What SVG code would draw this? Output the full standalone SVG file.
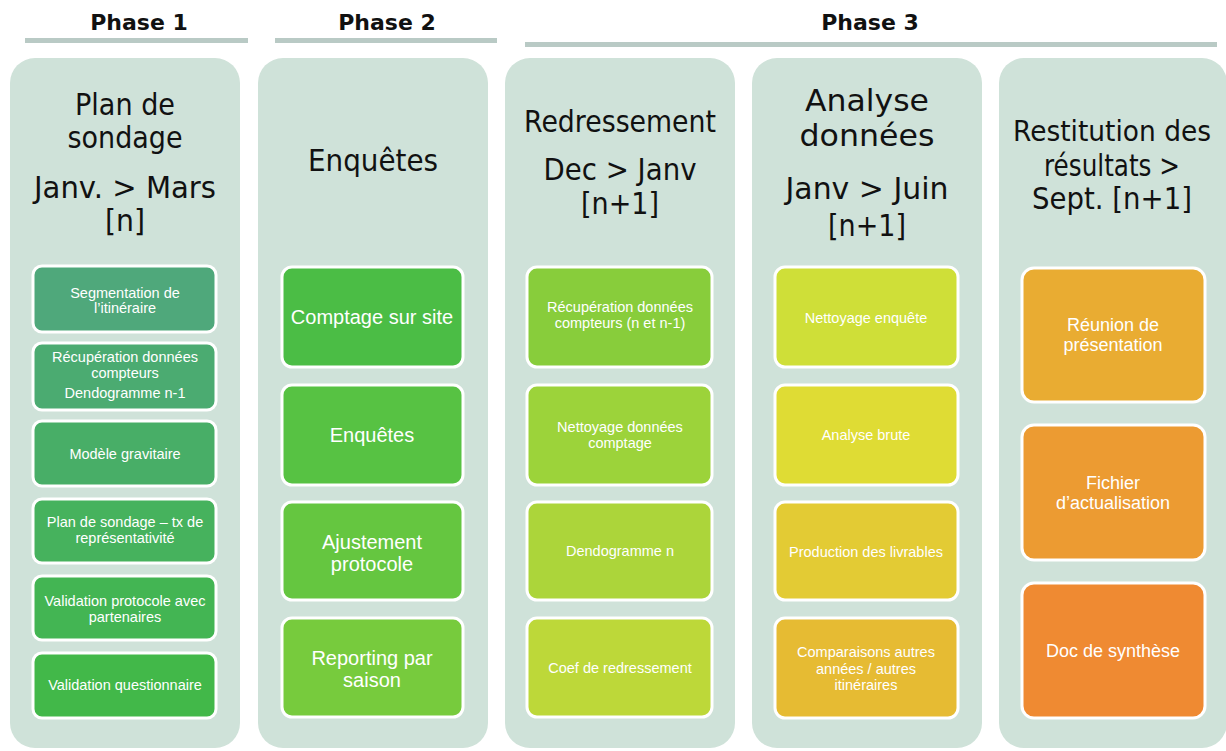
<svg xmlns="http://www.w3.org/2000/svg" width="1226" height="751" viewBox="0 0 1226 751">
<style>
.hdr{font-family:"DejaVu Sans",sans-serif;font-weight:bold;font-size:22px;fill:#111;text-anchor:middle}
.col{fill:#cfe2d9}
.line{fill:#b9cac5}
.ttl{font-family:"DejaVu Sans","Liberation Sans",sans-serif;fill:#111;text-anchor:middle}
.box{stroke:#fff;stroke-width:3}
.bt{font-family:"Liberation Sans",Arial,sans-serif;fill:#fff;text-anchor:middle}
</style>
<rect width="1226" height="751" fill="#fff"/>
<g id="headers">
<text class="hdr" x="139" y="30">Phase 1</text>
<text class="hdr" x="387" y="30">Phase 2</text>
<text class="hdr" x="870" y="30">Phase 3</text>
<rect class="line" x="25" y="38" width="223" height="5"/>
<rect class="line" x="275" y="38" width="222" height="5"/>
<rect class="line" x="525" y="42" width="692" height="5"/>
</g>
<g id="col1">
<rect class="col" x="10" y="58" width="230" height="690" rx="25"/>
<text class="ttl" font-size="31" x="125" y="115" textLength="100" lengthAdjust="spacingAndGlyphs">Plan de</text>
<text class="ttl" font-size="31" x="125" y="148" textLength="115" lengthAdjust="spacingAndGlyphs">sondage</text>
<text class="ttl" font-size="31" x="125" y="198" textLength="182" lengthAdjust="spacingAndGlyphs">Janv. &gt; Mars</text>
<text class="ttl" font-size="31" x="125" y="231" textLength="40" lengthAdjust="spacingAndGlyphs">[n]</text>
</g>
<g id="col2">
<rect class="col" x="258" y="58" width="230" height="690" rx="25"/>
<text class="ttl" font-size="30" x="373" y="171" textLength="130" lengthAdjust="spacingAndGlyphs">Enquêtes</text>
</g>
<g id="col3">
<rect class="col" x="505" y="58" width="230" height="690" rx="25"/>
<text class="ttl" font-size="30" x="620" y="132" textLength="192" lengthAdjust="spacingAndGlyphs">Redressement</text>
<text class="ttl" font-size="30" x="620" y="180" textLength="153" lengthAdjust="spacingAndGlyphs">Dec &gt; Janv</text>
<text class="ttl" font-size="30" x="620" y="214" textLength="78" lengthAdjust="spacingAndGlyphs">[n+1]</text>
</g>
<g id="col4">
<rect class="col" x="752" y="58" width="230" height="690" rx="25"/>
<text class="ttl" font-size="31" x="867" y="111" textLength="124" lengthAdjust="spacingAndGlyphs">Analyse</text>
<text class="ttl" font-size="31" x="867" y="146" textLength="135" lengthAdjust="spacingAndGlyphs">données</text>
<text class="ttl" font-size="31" x="867" y="199" textLength="163" lengthAdjust="spacingAndGlyphs">Janv &gt; Juin</text>
<text class="ttl" font-size="31" x="867" y="236" textLength="78" lengthAdjust="spacingAndGlyphs">[n+1]</text>
</g>
<g id="col5">
<rect class="col" x="999" y="58" width="228" height="690" rx="25"/>
<text class="ttl" font-size="28" x="1112" y="141" textLength="198" lengthAdjust="spacingAndGlyphs">Restitution des</text>
<text class="ttl" font-size="30" x="1112" y="176" textLength="136" lengthAdjust="spacingAndGlyphs">résultats &gt;</text>
<text class="ttl" font-size="30" x="1112" y="209" textLength="160" lengthAdjust="spacingAndGlyphs">Sept. [n+1]</text>
</g>

<g id="n1-1"><rect class="box" x="33" y="266" width="183" height="66" rx="9" fill="#4fa87b"/><text class="bt" font-size="14.5"><tspan x="125" y="298">Segmentation de</tspan><tspan x="125" y="313">l’itinéraire</tspan></text></g>
<g id="n1-2"><rect class="box" x="33" y="343" width="183" height="67" rx="9" fill="#4bab71"/><text class="bt" font-size="14.5"><tspan x="125" y="362">Récupération données</tspan><tspan x="125" y="378">compteurs</tspan><tspan x="125" y="398">Dendogramme n-1</tspan></text></g>
<g id="n1-3"><rect class="box" x="33" y="421" width="183" height="65" rx="9" fill="#48ae67"/><text class="bt" font-size="14.5" x="125" y="459">Modèle gravitaire</text></g>
<g id="n1-4"><rect class="box" x="33" y="499" width="183" height="64" rx="9" fill="#46b25d"/><text class="bt" font-size="14.5"><tspan x="125" y="527">Plan de sondage – tx de</tspan><tspan x="125" y="543">représentativité</tspan></text></g>
<g id="n1-5"><rect class="box" x="33" y="576" width="183" height="64" rx="9" fill="#43b553"/><text class="bt" font-size="14.5"><tspan x="125" y="606">Validation protocole avec</tspan><tspan x="125" y="622">partenaires</tspan></text></g>
<g id="n1-6"><rect class="box" x="33" y="653" width="183" height="65" rx="9" fill="#42b849"/><text class="bt" font-size="14.5" x="125" y="690">Validation questionnaire</text></g>

<g id="n2-1"><rect class="box" x="282" y="267" width="181" height="100" rx="10" fill="#4bbd45"/><text class="bt" font-size="20" x="372" y="324">Comptage sur site</text></g>
<g id="n2-2"><rect class="box" x="282" y="385" width="181" height="100" rx="10" fill="#57c243"/><text class="bt" font-size="20" x="372" y="442">Enquêtes</text></g>
<g id="n2-3"><rect class="box" x="282" y="502" width="181" height="98" rx="10" fill="#65c640"/><text class="bt" font-size="20"><tspan x="372" y="549">Ajustement</tspan><tspan x="372" y="571">protocole</tspan></text></g>
<g id="n2-4"><rect class="box" x="282" y="618" width="181" height="99" rx="10" fill="#77cb3d"/><text class="bt" font-size="20"><tspan x="372" y="665">Reporting par</tspan><tspan x="372" y="687">saison</tspan></text></g>

<g id="n3-1"><rect class="box" x="527" y="267" width="185" height="100" rx="10" fill="#88cd3b"/><text class="bt" font-size="14.5"><tspan x="620" y="312">Récupération données</tspan><tspan x="620" y="328">compteurs (n et n-1)</tspan></text></g>
<g id="n3-2"><rect class="box" x="527" y="385" width="185" height="100" rx="10" fill="#9cd33a"/><text class="bt" font-size="14.5"><tspan x="620" y="432">Nettoyage données</tspan><tspan x="620" y="448">comptage</tspan></text></g>
<g id="n3-3"><rect class="box" x="527" y="502" width="185" height="98" rx="10" fill="#acd53a"/><text class="bt" font-size="14.5" x="620" y="556">Dendogramme n</text></g>
<g id="n3-4"><rect class="box" x="527" y="618" width="185" height="99" rx="10" fill="#bdd839"/><text class="bt" font-size="14.5" x="620" y="673">Coef de redressement</text></g>

<g id="n4-1"><rect class="box" x="775" y="267" width="183" height="100" rx="10" fill="#cfdf38"/><text class="bt" font-size="14.5" x="866" y="323">Nettoyage enquête</text></g>
<g id="n4-2"><rect class="box" x="775" y="385" width="183" height="100" rx="10" fill="#dfdc34"/><text class="bt" font-size="14.5" x="866" y="440">Analyse brute</text></g>
<g id="n4-3"><rect class="box" x="775" y="502" width="183" height="98" rx="10" fill="#e3cb34"/><text class="bt" font-size="14.5" x="866" y="557">Production des livrables</text></g>
<g id="n4-4"><rect class="box" x="775" y="618" width="183" height="100" rx="10" fill="#e6bb33"/><text class="bt" font-size="14.5"><tspan x="866" y="657">Comparaisons autres</tspan><tspan x="866" y="674">années / autres</tspan><tspan x="866" y="690">itinéraires</tspan></text></g>

<g id="n5-1"><rect class="box" x="1022" y="268" width="183" height="134" rx="12" fill="#e9ac32"/><text class="bt" font-size="18"><tspan x="1113" y="331">Réunion de</tspan><tspan x="1113" y="351">présentation</tspan></text></g>
<g id="n5-2"><rect class="box" x="1022" y="425" width="183" height="135" rx="12" fill="#ec9b32"/><text class="bt" font-size="18"><tspan x="1113" y="489">Fichier</tspan><tspan x="1113" y="509">d’actualisation</tspan></text></g>
<g id="n5-3"><rect class="box" x="1022" y="583" width="183" height="135" rx="12" fill="#ef8a32"/><text class="bt" font-size="18" x="1113" y="657">Doc de synthèse</text></g>
<g id="connectors"/>
</svg>
